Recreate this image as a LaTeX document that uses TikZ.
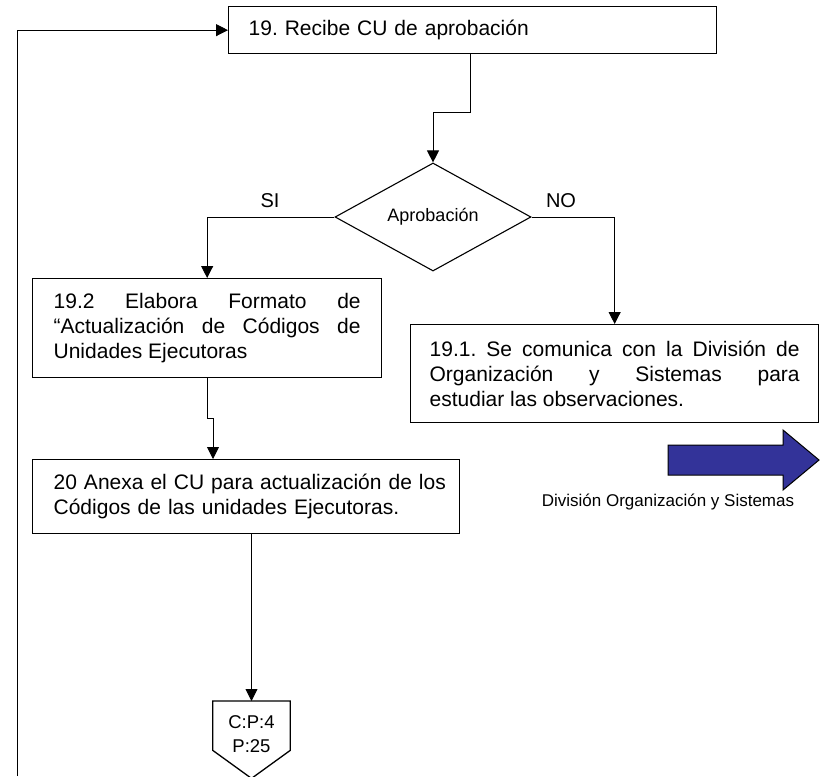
\documentclass[tikz,border=0pt]{standalone}
\usepackage{fontspec}
\setmainfont{Liberation Sans}
\usetikzlibrary{arrows.meta,shapes.geometric,calc}
\definecolor{arrowblue}{RGB}{51,51,153}
\frenchspacing
\tikzset{
  box/.style={draw, line width=1.3pt, inner ysep=0pt, anchor=north west,
    font=\fontsize{21}{25}\selectfont\frenchspacing},
  conn/.style={line width=0.9pt, -{Triangle[length=12pt,width=12pt]}},
  plain/.style={line width=0.9pt},
  lbl/.style={font=\fontsize{20}{24}\selectfont, inner sep=0pt},
}
\begin{document}
\begin{tikzpicture}[x=1pt,y=-1pt]
\useasboundingbox (0,0) rectangle (826,776);

% boxes
\node[box, minimum width=488pt, minimum height=47pt, inner xsep=20pt, text width=448pt, align=left]
  (b19) at (228,6) {19. Recibe CU de aprobación};
\node[draw, line width=1.1pt, shape=diamond, minimum width=196pt, minimum height=90pt, inner sep=0pt,
  font=\fontsize{18}{22}\selectfont] (dia) at (433,217) {Aprobación};
\node[box, minimum width=349pt, minimum height=99pt, inner xsep=21pt, text width=307pt, align=justify]
  (b192) at (32,278) {19.2 Elabora Formato de\linebreak “Actualización de Códigos de\linebreak Unidades Ejecutoras};
\node[box, minimum width=408pt, minimum height=98pt, inner xsep=19pt, text width=370pt, align=justify]
  (b191) at (410,324) {19.1. Se comunica con la División de\linebreak Organización y Sistemas para\linebreak estudiar las observaciones.};
\node[box, minimum width=427pt, minimum height=74pt, inner xsep=21pt, text width=385pt, align=left]
  (b20) at (32,459) {\mbox{20 Anexa el CU para actualización de los}\\\mbox{Códigos de las unidades Ejecutoras.}};

% off-page connector
\node[minimum width=77pt, minimum height=49pt, inner sep=0pt, anchor=north] (op) at (251.5,701) {};
\draw[line width=1.3pt] (op.north west) -- (op.north east) -- (op.south east)
  -- ($(op.south)+(0,28)$) -- (op.south west) -- cycle;
\node[font=\fontsize{18.5}{24}\selectfont, align=center, inner sep=0pt] (opt) at (251.5,734) {C:P:4\\P:25};

% junction coordinates
\coordinate (j1) at (470,112);
\coordinate (j2) at (213,418);
\coordinate (lb) at (17,776);

% connectors
\draw[conn] (b19.south -| j1) -- (j1) -| (dia.north);
\draw[conn] (dia.west) -| (b192.north);
\draw[conn] (dia.east) -| (b191.north);
\draw[conn] (b192.south) |- (j2) -- (j2 |- b20.north);
\draw[conn] (op.north |- b20.south) -- (op.north);
\draw[conn] (lb) |- (b19.west);

% branch labels
\node[lbl] (si) at (270,201) {SI};
\node[lbl] (no) at (561,201) {NO};

% blue arrow
\draw[line width=1pt, fill=arrowblue] (668,445) -- (783,445) -- (783,430) -- (819,460)
  -- (783,490) -- (783,475) -- (668,475) -- cycle;
\node[font=\fontsize{17}{20}\selectfont, inner sep=0pt] (dos) at (668,502) {División Organización y Sistemas};
\end{tikzpicture}
\end{document}
